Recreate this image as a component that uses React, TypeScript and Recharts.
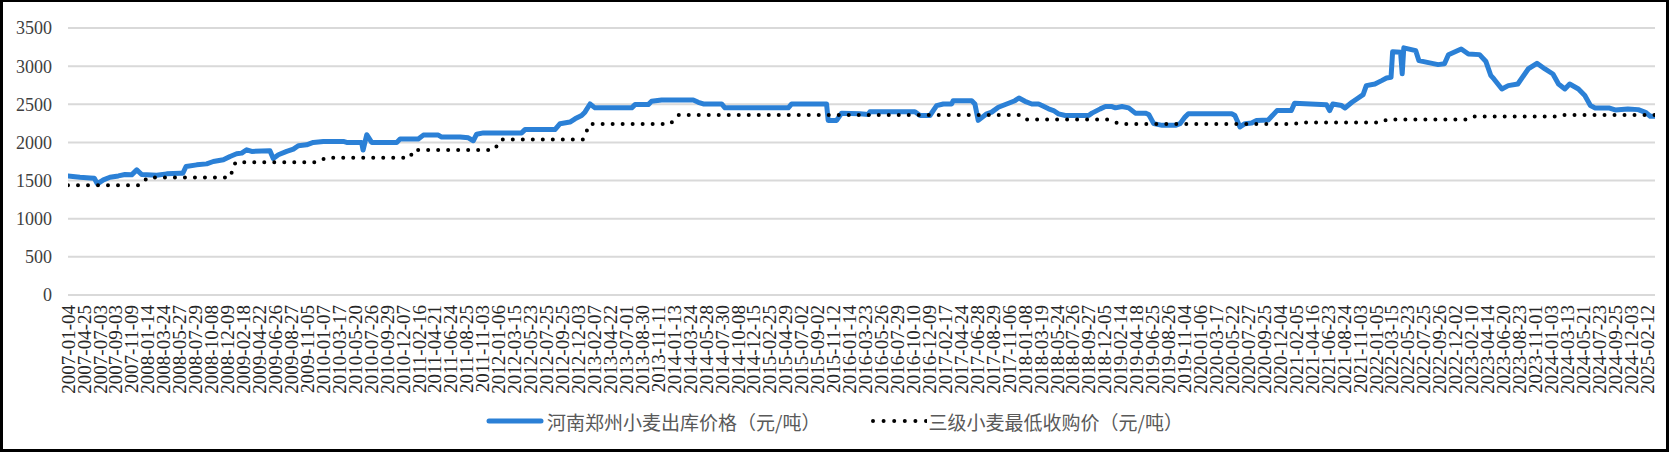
import { LineChart, Line, XAxis, YAxis, CartesianGrid } from 'recharts'

// category labels shown on the x axis (one every ~45 trading days)
const DATE_LABELS = [
  '2007-01-04', '2007-04-25', '2007-07-03', '2007-09-03', '2007-11-09',
  '2008-01-14', '2008-03-24', '2008-05-27', '2008-07-29', '2008-10-08', '2008-12-09',
  '2009-02-18', '2009-04-22', '2009-06-26', '2009-08-27', '2009-11-05',
  '2010-01-07', '2010-03-17', '2010-05-20', '2010-07-26', '2010-09-29', '2010-12-07',
  '2011-02-16', '2011-04-21', '2011-06-24', '2011-08-25', '2011-11-03',
  '2012-01-06', '2012-03-15', '2012-05-23', '2012-07-25', '2012-09-25', '2012-12-03',
  '2013-02-07', '2013-04-22', '2013-07-01', '2013-08-30', '2013-11-11',
  '2014-01-13', '2014-03-24', '2014-05-28', '2014-07-30', '2014-10-08', '2014-12-15',
  '2015-02-25', '2015-04-29', '2015-07-02', '2015-09-02', '2015-11-12',
  '2016-01-14', '2016-03-23', '2016-05-26', '2016-07-29', '2016-10-10', '2016-12-09',
  '2017-02-17', '2017-04-24', '2017-06-28', '2017-08-29', '2017-11-06',
  '2018-01-08', '2018-03-19', '2018-05-24', '2018-07-26', '2018-09-27', '2018-12-05',
  '2019-02-14', '2019-04-18', '2019-06-25', '2019-08-26', '2019-11-04',
  '2020-01-06', '2020-03-17', '2020-05-22', '2020-07-27', '2020-09-25', '2020-12-04',
  '2021-02-05', '2021-04-16', '2021-06-23', '2021-08-24', '2021-11-03',
  '2022-01-05', '2022-03-15', '2022-05-23', '2022-07-25', '2022-09-26', '2022-12-02',
  '2023-02-10', '2023-04-14', '2023-06-20', '2023-08-23', '2023-11-01',
  '2024-01-03', '2024-03-13', '2024-05-21', '2024-07-23', '2024-09-25', '2024-12-03',
  '2025-02-12',
]

const Y_TICKS = [0, 500, 1000, 1500, 2000, 2500, 3000, 3500]

// [position on the label axis, 元/吨]
const ZHENGZHOU_PRICE: [number, number][] = [
  [0, 1561], [0.75, 1544], [1.38, 1535], [1.65, 1530], [1.84, 1456], [2.22, 1509],
  [2.63, 1544], [3.16, 1561], [3.57, 1579], [3.99, 1575], [4.31, 1640], [4.62, 1579],
  [5.56, 1570], [6.19, 1588], [7.02, 1596], [7.2, 1596], [7.4, 1684], [8.07, 1706],
  [8.69, 1719], [9.11, 1750], [9.74, 1772], [10.16, 1816], [10.57, 1851], [10.89, 1860],
  [11.2, 1904], [11.52, 1882], [12.66, 1890], [12.87, 1790], [13.19, 1838], [13.71, 1882],
  [14.13, 1912], [14.44, 1956], [14.96, 1969], [15.38, 2000], [16.01, 2013], [17.26, 2013],
  [17.47, 2000], [18.41, 2000], [18.5, 1900], [18.73, 2101], [19.04, 2000], [20.61, 2000],
  [20.82, 2044], [21.96, 2044], [22.28, 2096], [23.22, 2096], [23.43, 2070], [24.58, 2070],
  [25.1, 2060], [25.41, 2022], [25.62, 2108], [26.04, 2125], [28.44, 2125], [28.65, 2168],
  [30.53, 2168], [30.85, 2246], [31.47, 2267], [31.79, 2310], [32.2, 2353], [32.41, 2397],
  [32.73, 2504], [33.04, 2453], [35.34, 2453], [35.55, 2496], [36.38, 2496], [36.59, 2539],
  [37.22, 2556], [39.2, 2556], [39.52, 2526], [39.83, 2504], [40.98, 2504], [41.19, 2453],
  [45.16, 2453], [45.37, 2504], [47.56, 2504], [47.66, 2289], [48.19, 2289], [48.5, 2384],
  [49.65, 2375], [50.18, 2366], [50.28, 2401], [53.1, 2401], [53.42, 2353], [54.04, 2353],
  [54.46, 2483], [54.88, 2504], [55.4, 2504], [55.5, 2547], [56.66, 2547], [56.86, 2504],
  [57.07, 2289], [57.6, 2375], [57.91, 2397], [58.33, 2461], [58.85, 2504], [59.37, 2547],
  [59.62, 2582], [60, 2539], [60.43, 2504], [60.85, 2504], [61.06, 2483], [61.48, 2440],
  [61.79, 2418], [62.1, 2375], [62.53, 2353], [63.99, 2353], [64.2, 2384], [64.72, 2440],
  [65.04, 2470], [65.46, 2470], [65.67, 2453], [66.08, 2470], [66.5, 2453], [66.92, 2384],
  [67.55, 2384], [67.76, 2366], [68.07, 2246], [68.6, 2224], [69.43, 2224], [69.72, 2246],
  [70.03, 2332], [70.24, 2375], [72.96, 2375], [73.16, 2353], [73.48, 2203], [73.79, 2246],
  [74.21, 2254], [74.52, 2289], [75.25, 2295], [75.8, 2417], [76.7, 2417], [76.9, 2513],
  [78.9, 2495], [79.1, 2417], [79.3, 2504], [79.85, 2483], [80.06, 2452], [80.5, 2526],
  [80.8, 2570], [81.2, 2627], [81.4, 2745], [81.94, 2766], [82.36, 2810], [82.67, 2845],
  [82.95, 2854], [83.05, 3190], [83.55, 3181], [83.65, 2900], [83.75, 3240], [84.5, 3203],
  [84.7, 3072], [85.9, 3020], [86.3, 3030], [86.55, 3150], [87.35, 3225], [87.8, 3159],
  [88.5, 3151], [88.9, 3060], [89.2, 2880], [89.4, 2832], [89.9, 2701], [90.3, 2745],
  [90.9, 2766], [91.55, 2963], [92.1, 3037], [92.6, 2963], [93.1, 2897], [93.45, 2766],
  [93.85, 2701], [94.15, 2766], [94.7, 2701], [95.1, 2614], [95.45, 2483], [95.75, 2452],
  [96.6, 2452], [97, 2426], [97.8, 2439], [98.45, 2430], [98.9, 2395], [99.2, 2343],
  [99.5, 2343],
]

// 三级小麦最低收购价, step changes
const MIN_PRICE: [number, number][] = [
  [0, 1440], [4.5, 1440], [5.0, 1540], [10.15, 1540], [10.5, 1740], [15.6, 1740],
  [16.2, 1800], [21.45, 1800], [21.65, 1900], [26.7, 1900], [27.2, 2040], [32.3, 2040],
  [32.7, 2240], [37.75, 2240], [38.3, 2360], [59.75, 2360], [60.1, 2300], [65.2, 2300],
  [66.0, 2240], [76.9, 2240], [77.2, 2260], [82.3, 2260], [82.7, 2300], [87.8, 2300],
  [88.2, 2340], [93.3, 2340], [93.7, 2360], [99.5, 2360],
]

const BLUE = '#2B80D6'
const SERIF = '"Liberation Serif", "Times New Roman", serif'

const priceData = ZHENGZHOU_PRICE.map(([x, v]) => ({ x, v }))
const minData = MIN_PRICE.map(([x, v]) => ({ x, v }))
const xTicks = DATE_LABELS.map((_, i) => i)

// eslint-disable-next-line @typescript-eslint/no-explicit-any
function DateTick(props: any) {
  const { x, y, payload } = props
  const ty = y + 2
  return (
    <text
      x={x}
      y={ty}
      dy="0.35em"
      transform={`rotate(-90, ${x}, ${ty})`}
      textAnchor="end"
      fontSize={19}
      fontFamily={SERIF}
      fill="#262626"
    >
      {DATE_LABELS[payload.value]}
    </text>
  )
}

export default function App() {
  return (
    <div style={{ position: 'absolute', left: 0, top: 0, width: 1669, height: 452, background: '#fff' }}>
      <LineChart
        width={1669}
        height={452}
        margin={{ top: 28, right: 14, bottom: 0, left: 8 }}
      >
        <CartesianGrid vertical={false} stroke="#d9d9d9" strokeWidth={2} />
        <XAxis
          type="number"
          dataKey="x"
          domain={[0, 99.5]}
          ticks={xTicks}
          interval={0}
          height={157}
          tick={<DateTick />}
          tickLine={false}
          axisLine={false}
          allowDataOverflow
        />
        <YAxis
          type="number"
          domain={[0, 3500]}
          ticks={Y_TICKS}
          width={60}
          tickLine={false}
          axisLine={false}
          tickSize={0}
          tickMargin={16}
          tick={{ fill: '#404040', fontSize: 18, fontFamily: SERIF }}
        />
        <Line
          data={priceData}
          dataKey="v"
          type="linear"
          stroke={BLUE}
          strokeWidth={5}
          strokeLinejoin="round"
          strokeLinecap="round"
          dot={false}
          activeDot={false}
          isAnimationActive={false}
        />
        <Line
          data={minData}
          dataKey="v"
          type="linear"
          stroke="#000"
          strokeWidth={4}
          strokeDasharray="0 10"
          strokeLinecap="round"
          dot={false}
          activeDot={false}
          isAnimationActive={false}
        />
      </LineChart>
      <div
        style={{
          position: 'absolute',
          left: 0,
          top: 408,
          width: 1669,
          height: 26,
          display: 'flex',
          justifyContent: 'center',
          alignItems: 'center',
          fontFamily: '"Noto Sans CJK SC", sans-serif',
          fontSize: 19,
          color: '#595959',
          whiteSpace: 'nowrap',
        }}
      >
        <svg width={58} height={10}>
          <line x1={3} y1={5} x2={55} y2={5} stroke={BLUE} strokeWidth={5} strokeLinecap="round" />
        </svg>
        <span style={{ marginLeft: 3 }}>河南郑州小麦出库价格（元/吨）</span>
        <svg width={56} height={10} style={{ marginLeft: 50 }}>
          <line x1={2} y1={5} x2={56} y2={5} stroke="#000" strokeWidth={4} strokeDasharray="0 10.6" strokeLinecap="round" />
        </svg>
        <span style={{ marginLeft: 2 }}>三级小麦最低收购价（元/吨）</span>
      </div>
      <div
        style={{
          position: 'absolute',
          left: 0,
          top: 0,
          width: 1669,
          height: 452,
          boxSizing: 'border-box',
          borderStyle: 'solid',
          borderColor: '#000',
          borderWidth: '2px 3px 3px 3px',
          pointerEvents: 'none',
        }}
      />
    </div>
  )
}
